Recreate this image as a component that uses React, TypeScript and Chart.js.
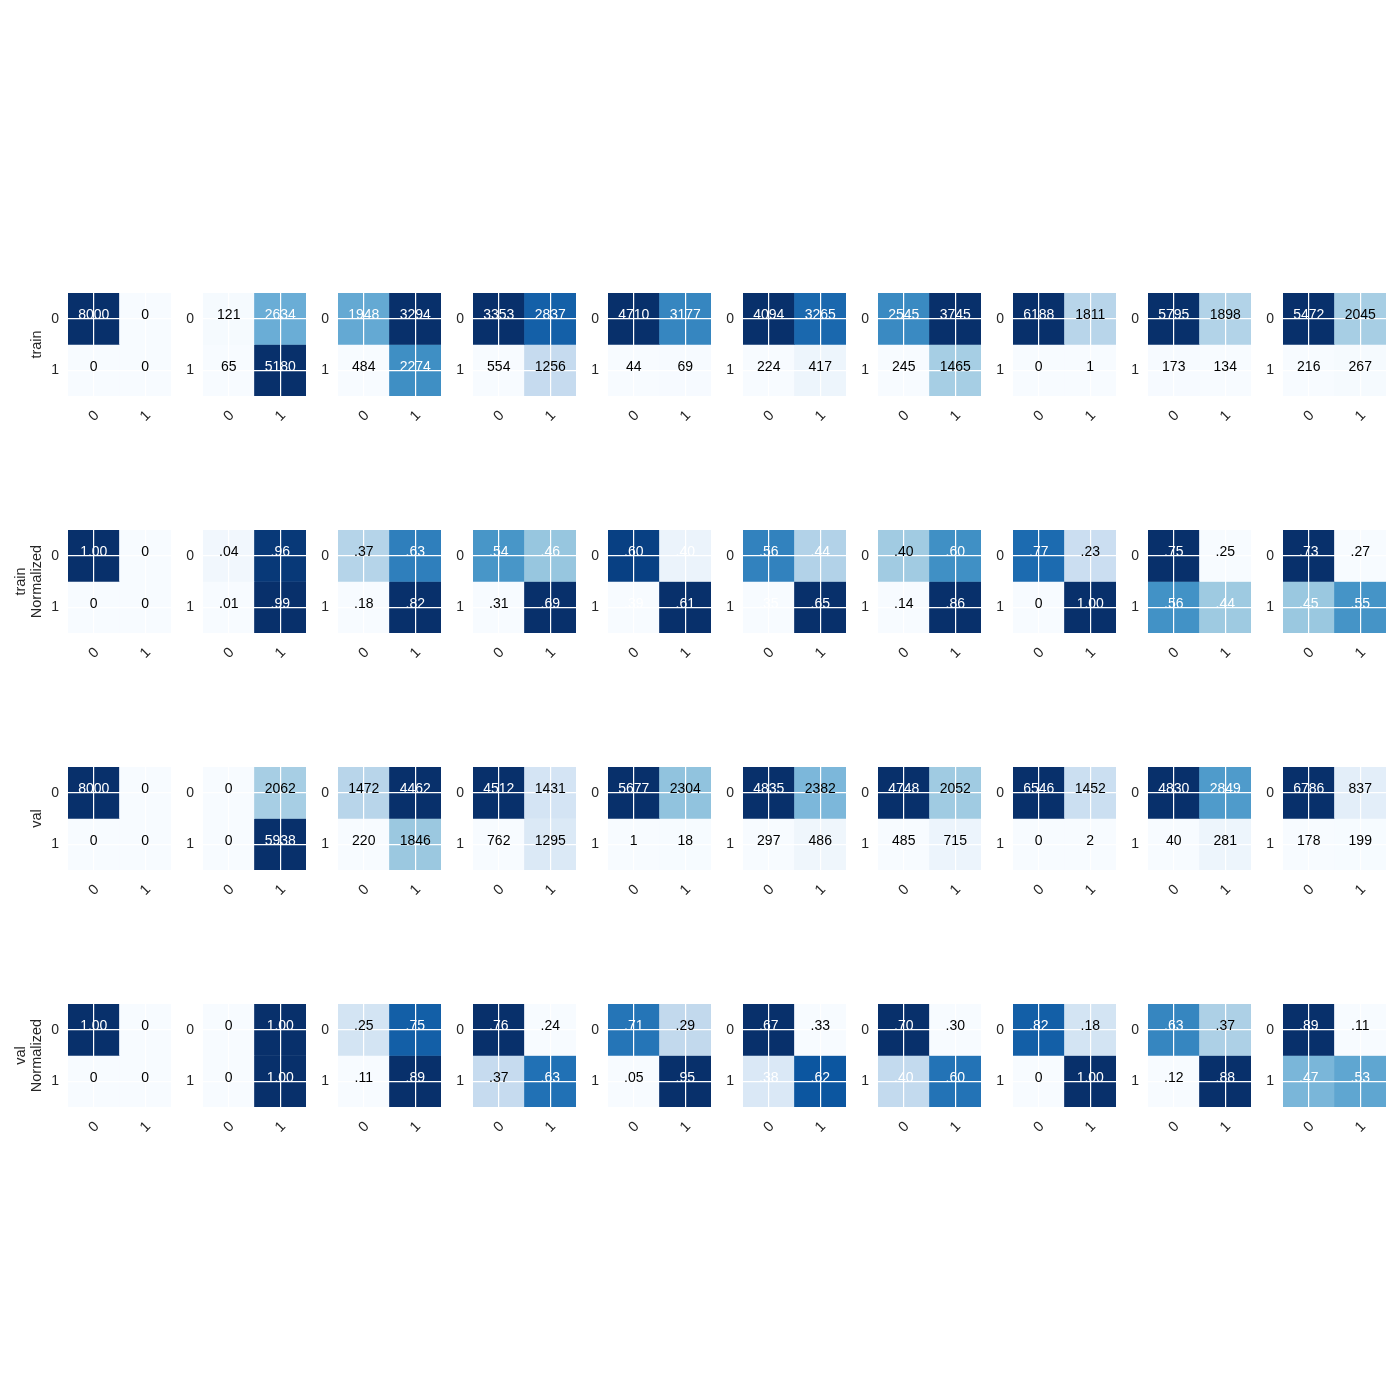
import React, { useEffect, useRef } from "react";
import { Chart, registerables } from "chart.js";

Chart.register(...registerables);

// ---- data ----
const classLabels = ["0", "1"];
const rowTitles: string[][] = [["train"], ["train", "Normalized"], ["val"], ["val", "Normalized"]];

// confusion-matrix cells per model (10 models), row = true class, col = predicted class
const trainTN = [8000, 121, 1948, 3353, 4710, 4094, 2545, 6188, 5795, 5472];
const trainFP = [0, 2634, 3294, 2837, 3177, 3265, 3745, 1811, 1898, 2045];
const trainFN = [0, 65, 484, 554, 44, 224, 245, 0, 173, 216];
const trainTP = [0, 5180, 2274, 1256, 69, 417, 1465, 1, 134, 267];

const valTN = [8000, 0, 1472, 4512, 5677, 4835, 4748, 6546, 4830, 6786];
const valFP = [0, 2062, 4462, 1431, 2304, 2382, 2052, 1452, 2849, 837];
const valFN = [0, 0, 220, 762, 1, 297, 485, 0, 40, 178];
const valTP = [0, 5938, 1846, 1295, 18, 486, 715, 2, 281, 199];

// ---- layout ----
const GRID_LEFT = 68;
const COL_STEP = 135;
const ROW_TOP = 293;
const ROW_STEP = 237;
const SIZE = 103;
const PAD_T = 4;
const PAD_R = 4;
const AXIS_B = 40;

const FONT = "'Liberation Sans', Arial, Helvetica, sans-serif";
const TICK_COLOR = "#262626";

const BLUES = ["#f7fbff", "#deebf7", "#c6dbef", "#9ecae1", "#6baed6", "#4292c6", "#2171b5", "#08519c", "#08306b"];

function hexToRgb(h: string) {
  return [parseInt(h.slice(1, 3), 16), parseInt(h.slice(3, 5), 16), parseInt(h.slice(5, 7), 16)];
}

function blues(t: number) {
  const tt = Math.max(0, Math.min(1, t)) * (BLUES.length - 1);
  const i = Math.min(BLUES.length - 2, Math.floor(tt));
  const f = tt - i;
  const a = hexToRgb(BLUES[i]);
  const b = hexToRgb(BLUES[i + 1]);
  const c = a.map((v, k) => Math.round(v + (b[k] - v) * f));
  return `rgb(${c[0]},${c[1]},${c[2]})`;
}

function normalizeRow(row: number[]) {
  const s = row[0] + row[1];
  return s === 0 ? [0, 0] : row.map((v) => v / s);
}

function fmtNorm(v: number) {
  if (v === 0) return "0";
  return v.toFixed(2).replace(/^0\./, ".");
}

type MatrixProps = {
  cells: number[][];
  normalized: boolean;
  title: string[] | null;
  left: number;
  top: number;
  leftSpace: number;
};

function MatrixChart({ cells, normalized, title, left, top, leftSpace }: MatrixProps) {
  const ref = useRef<HTMLCanvasElement | null>(null);
  const width = leftSpace + SIZE + PAD_R;
  const height = PAD_T + SIZE + AXIS_B;

  useEffect(() => {
    if (!ref.current) return;
    const flat = cells.flat();
    const vmin = Math.min(...flat);
    const vmax = Math.max(...flat);
    const colorOf = (v: number) => blues(vmax === vmin ? 0 : (v - vmin) / (vmax - vmin));
    const thresh = vmax / 2;

    const datasets = [0, 1].map((r) => ({
      label: classLabels[r],
      data: [0, 1].map(() => [r, r + 1]),
      backgroundColor: [0, 1].map((c) => colorOf(cells[r][c])),
      grouped: false,
      barPercentage: 1,
      categoryPercentage: 1,
      borderWidth: 0,
    }));

    const cellText = {
      id: "cellText",
      afterDraw(chart: any) {
        const ctx = chart.ctx;
        ctx.save();
        ctx.font = `14px ${FONT}`;
        ctx.textAlign = "center";
        ctx.textBaseline = "alphabetic";
        for (let r = 0; r < 2; r++) {
          const meta = chart.getDatasetMeta(r);
          meta.data.forEach((el: any, c: number) => {
            const v = cells[r][c];
            const txt = normalized ? fmtNorm(v) : String(v);
            const cy = (el.y + el.base) / 2;
            ctx.fillStyle = v > thresh ? "#ffffff" : "#000000";
            ctx.fillText(txt, el.x, cy + 0.5);
          });
        }
        ctx.restore();
      },
    };

    const chart = new Chart(ref.current, {
      type: "bar",
      data: { labels: classLabels, datasets: datasets as any },
      options: {
        animation: false,
        responsive: false,
        maintainAspectRatio: false,
        events: [],
        layout: { padding: { left: 0, top: PAD_T, right: PAD_R, bottom: 0 } },
        plugins: { legend: { display: false }, tooltip: { enabled: false } },
        scales: {
          x: {
            type: "category",
            offset: true,
            grid: { offset: false, color: "#ffffff", lineWidth: 1.2, drawTicks: false, z: 1 },
            border: { display: false },
            ticks: {
              autoSkip: false,
              minRotation: 45,
              maxRotation: 45,
              padding: 11,
              labelOffset: 3,
              color: TICK_COLOR,
              font: { family: FONT, size: 14.5 },
            },
            afterFit: (s: any) => {
              s.height = AXIS_B;
              s.paddingLeft = 0;
              s.paddingRight = 0;
            },
          },
          y: {
            type: "linear",
            min: 0,
            max: 2,
            reverse: true,
            afterBuildTicks: (s: any) => {
              s.ticks = [{ value: 0.5 }, { value: 1.5 }];
            },
            grid: { color: "#ffffff", lineWidth: 1.2, drawTicks: false, z: 1 },
            border: { display: false },
            ticks: {
              padding: 9,
              color: TICK_COLOR,
              font: { family: FONT, size: 14 },
              callback: (v: any) => classLabels[Math.round(Number(v) - 0.5)],
            },
            title: {
              display: !!title,
              text: title || "",
              color: TICK_COLOR,
              font: { family: FONT, size: 14.5, lineHeight: 1.1 },
              padding: { top: title && title.length > 1 ? 13 : 29, bottom: 0 },
            },
            afterFit: (s: any) => {
              s.width = leftSpace;
              s.paddingTop = 0;
              s.paddingBottom = 0;
            },
          },
        },
      },
      plugins: [cellText],
    } as any);
    return () => chart.destroy();
  }, [cells, normalized, title, leftSpace]);

  return (
    <canvas
      ref={ref}
      width={width}
      height={height}
      style={{ position: "absolute", left, top, width, height }}
    />
  );
}

export default function App() {
  const items: React.ReactNode[] = [];
  const sets = [
    { TN: trainTN, FP: trainFP, FN: trainFN, TP: trainTP },
    { TN: valTN, FP: valFP, FN: valFN, TP: valTP },
  ];
  for (let r = 0; r < 4; r++) {
    const src = sets[r < 2 ? 0 : 1];
    const normalized = r % 2 === 1;
    for (let i = 0; i < 10; i++) {
      let cells = [
        [src.TN[i], src.FP[i]],
        [src.FN[i], src.TP[i]],
      ];
      if (normalized) cells = cells.map(normalizeRow);
      const x0 = GRID_LEFT + COL_STEP * i;
      const y0 = ROW_TOP + ROW_STEP * r;
      const leftSpace = i === 0 ? GRID_LEFT : 30;
      items.push(
        <MatrixChart
          key={`${r}-${i}`}
          cells={cells}
          normalized={normalized}
          title={i === 0 ? rowTitles[r] : null}
          left={x0 - leftSpace}
          top={y0 - PAD_T}
          leftSpace={leftSpace}
        />
      );
    }
  }
  return (
    <div style={{ position: "absolute", left: 0, top: 0, width: 1400, height: 1400, background: "#ffffff" }}>
      {items}
    </div>
  );
}
